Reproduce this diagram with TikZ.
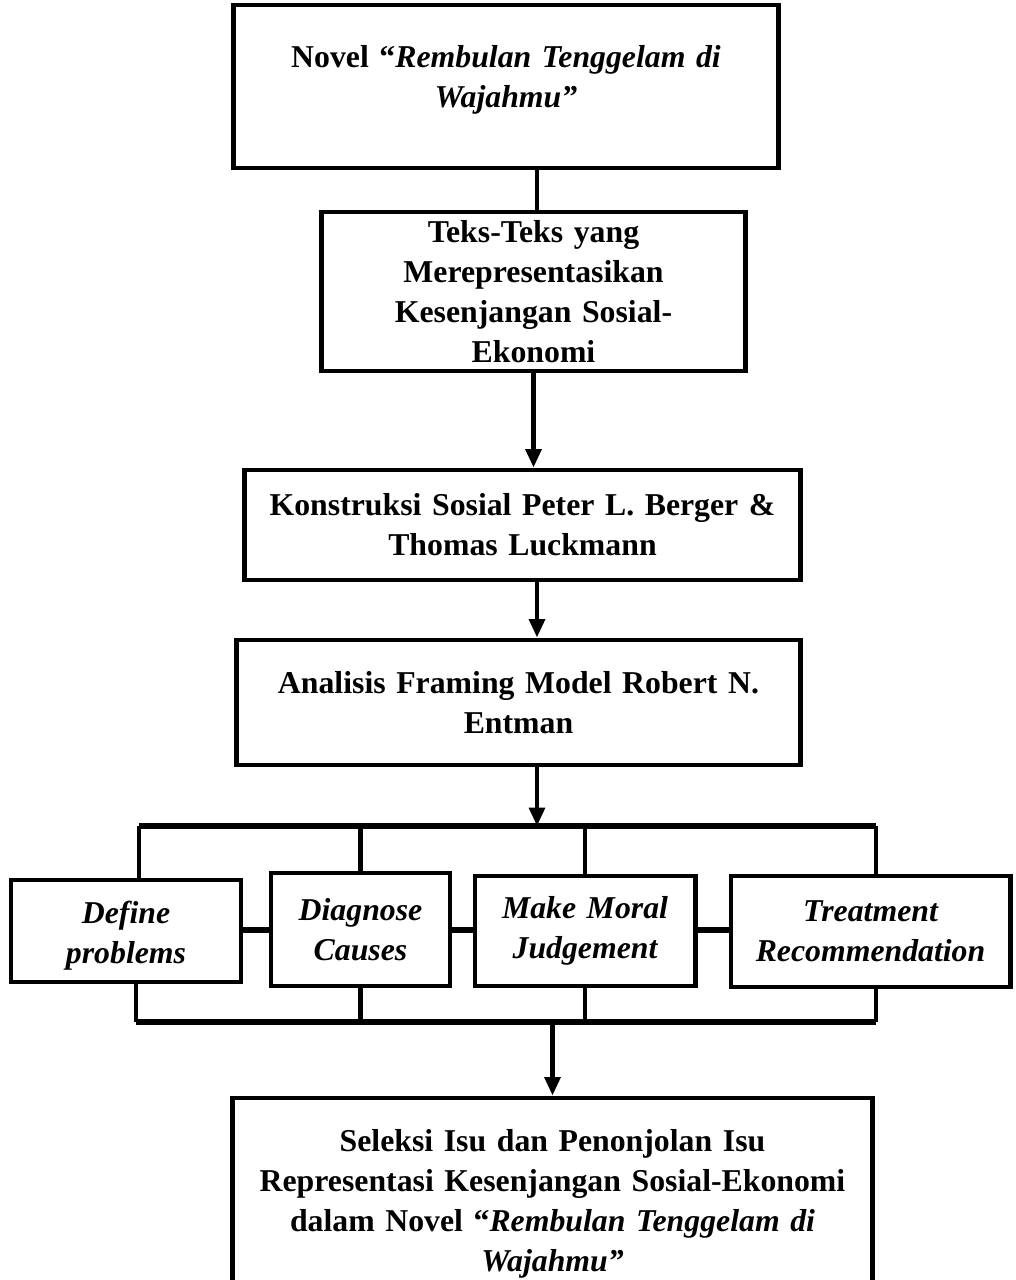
\documentclass[tikz,border=0pt]{standalone}
\usepackage{fontspec}
\setmainfont{Liberation Serif}
\usetikzlibrary{arrows.meta}
\tikzset{
  blok/.style={draw, line width=3.5pt, rectangle, align=center, inner sep=0pt, font=\fontsize{22.6}{28.4}\selectfont\bfseries},
  aspek/.style={blok, font=\fontsize{22.6}{28.4}\selectfont\bfseries\itshape},
  garis/.style={line width=3pt},
  panah/.style={garis, -{Triangle[length=13pt, width=11pt]}}
}
\begin{document}
\begin{tikzpicture}[x=0.025cm, y=-0.025cm]
        \useasboundingbox (0, 0) rectangle (1016, 1280);
        \node[blok, minimum width=13.6cm, minimum height=4.075cm, text width=13cm] (novel) at (506, 86.5) {Novel “\textit{Rembulan Tenggelam di}\\\textit{Wajahmu”}\\[-0.5cm]\mbox{}};
        \node[blok, minimum width=10.575cm, minimum height=3.975cm, text width=10cm] (teks) at (533.5, 291.5) {Teks-Teks yang\\Merepresentasikan\\Kesenjangan Sosial-\\Ekonomi};
        \node[blok, minimum width=13.875cm, minimum height=2.75cm, text width=13.3cm] (konstruksi) at (522.5, 525) {Konstruksi Sosial Peter L. Berger \&\\Thomas Luckmann};
        \node[blok, minimum width=14.075cm, minimum height=3.125cm, text width=13.5cm] (framing) at (518.5, 702.5) {Analisis Framing Model Robert N.\\Entman};
        \node[aspek, minimum width=5.75cm, minimum height=2.55cm, text width=5.4cm] (define) at (126, 931) {\\[-0.2cm]Define\\problems};
        \node[aspek, minimum width=4.475cm, minimum height=2.825cm, text width=4.2cm] (diagnose) at (360.5, 929.5) {Diagnose\\Causes};
        \node[aspek, minimum width=5.5cm, minimum height=2.75cm, text width=5.2cm] (moral) at (585, 931) {Make Moral\\Judgement};
        \node[aspek, minimum width=6.975cm, minimum height=2.775cm, text width=6.7cm] (treatment) at (870.5, 931.5) {Treatment\\Recommendation};
        \node[blok, minimum width=15.975cm, minimum height=5.3cm, text width=15.5cm] (seleksi) at (552.5, 1204) {Seleksi Isu dan Penonjolan Isu\\Representasi Kesenjangan Sosial-Ekonomi\\dalam Novel “\textit{Rembulan Tenggelam di}\\\textit{Wajahmu”}};
        \coordinate (spine) at (537, 0);
        \coordinate (tl) at (139, 826);
        \coordinate (tr) at (876, 826);
        \coordinate (bl) at (136, 1022);
        \coordinate (br) at (876, 1022);
        \coordinate (mid) at (0, 930);
        \draw[garis] (novel.south -| spine) -- (teks.north -| spine);
        \draw[panah] (teks.south) -- (teks.south |- konstruksi.north);
        \draw[panah] (konstruksi.south -| spine) -- (framing.north -| spine);
        \draw[panah] (framing.south -| spine) -- (spine |- tl);
        \draw[line width=4pt] (tl) -- (tr);
        \draw[garis] (tl) -- (tl |- define.north);
        \draw[garis] (diagnose.north |- tl) -- (diagnose.north);
        \draw[garis] (moral.north |- tl) -- (moral.north);
        \draw[garis] (tr) -- (tr |- treatment.north);
        \draw[line width=4pt] (define.east |- mid) -- (diagnose.west |- mid);
        \draw[line width=4pt] (diagnose.east |- mid) -- (moral.west |- mid);
        \draw[line width=4pt] (moral.east |- mid) -- (treatment.west |- mid);
        \draw[garis] (bl |- define.south) -- (bl);
        \draw[garis] (diagnose.south) -- (diagnose.south |- bl);
        \draw[garis] (moral.south) -- (moral.south |- bl);
        \draw[garis] (br |- treatment.south) -- (br);
        \draw[line width=4pt] (bl) -- (br);
        \draw[panah] (seleksi.north |- bl) -- (seleksi.north);
      \end{tikzpicture}
\end{document}
